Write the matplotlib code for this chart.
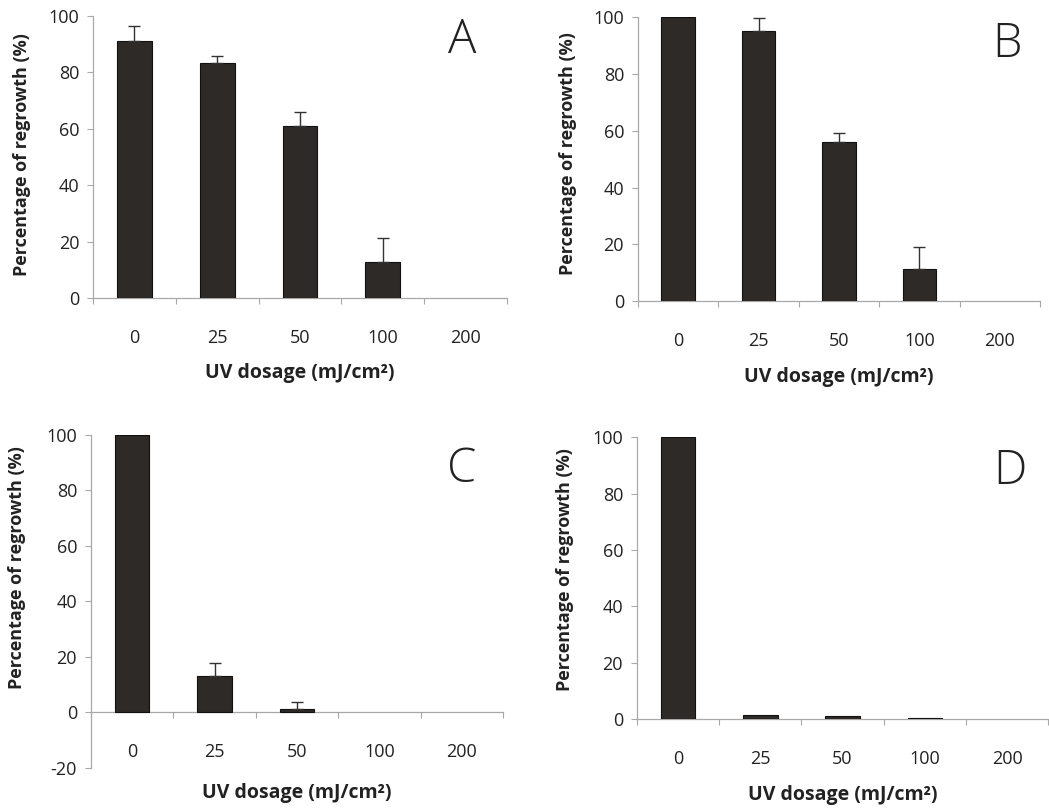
import matplotlib
matplotlib.use("Agg")
import matplotlib.pyplot as plt
import numpy as np

plt.rcParams['font.family'] = ['Open Sans', 'DejaVu Sans']

doses = ["0", "25", "50", "100", "200"]

vals_A = [91, 83.3, 61, 12.8, 0]
err_A = [5.5, 2.7, 5.0, 8.5, 0]
vals_B = [100, 95, 56, 11.4, 0]
err_B = [0, 4.6, 3.2, 7.8, 0]
vals_C = [100, 13, 1.3, 0, 0]
err_C = [0, 5.0, 2.4, 0, 0]
vals_D = [100, 1.4, 1.0, 0.3, 0]
err_D = [0, 0, 0, 0, 0]

panels = [
    ("A", vals_A, err_A, [0.0887, 0.6316, 0.3947, 0.3486], (0, 100), [0, 20, 40, 60, 80, 100], (462, 41), (22, 155), 373),
    ("B", vals_B, err_B, [0.6082, 0.6279, 0.3832, 0.3507], (0, 100), [0, 20, 40, 60, 80, 100], (1007, 45), (568, 154), 377),
    ("C", vals_C, err_C, [0.0867, 0.0507, 0.3928, 0.4116], (-20, 100), [-20, 0, 20, 40, 60, 80, 100], (462, 470), (17, 568), 793),
    ("D", vals_D, err_D, [0.6072, 0.1112, 0.3920, 0.3483], (0, 100), [0, 20, 40, 60, 80, 100], (1010, 472), (565, 570), 795),
]

W, H = 1049, 809
fig = plt.figure(figsize=(W / 100, H / 100), dpi=100)

bar_color = "#2e2a27"
axis_color = "#a8a8a8"
text_color = "#222222"

for letter, vals, errs, rect, ylim, yticks, lpos, ylpos, xly in panels:
    ax = fig.add_axes(rect)
    x = np.arange(len(doses))
    edges = ["#111111" if v > 0 else "none" for v in vals]
    ax.bar(x, vals, width=0.42, color=bar_color, edgecolor=edges, linewidth=0.8, zorder=3)
    for xi, v, e in zip(x, vals, errs):
        if e > 0:
            ax.errorbar([xi], [v], yerr=[[0], [e]], fmt="none", ecolor="#333333",
                        elinewidth=1.0, capsize=4, capthick=1.0, zorder=4, clip_on=False)
    ax.set_xlim(-0.5, len(doses) - 0.5)
    ax.set_ylim(*ylim)
    ax.set_yticks(yticks)
    ax.set_yticklabels([str(t) for t in yticks])
    ax.set_xticks(np.arange(-0.5, len(doses), 1.0))
    ax.set_xticklabels([])
    ax.set_xticks(x, minor=True)
    ax.set_xticklabels(doses, minor=True)
    ax.tick_params(axis="x", which="major", direction="out", length=4, width=0.8, color=axis_color)
    ax.tick_params(axis="x", which="minor", length=0, pad=22, labelsize=13, labelcolor=text_color)
    ax.tick_params(axis="y", direction="out", length=4, width=0.8, color=axis_color, pad=6,
                   labelsize=13, labelcolor=text_color)
    for s in ["top", "right"]:
        ax.spines[s].set_visible(False)
    ax.spines["left"].set_color(axis_color)
    ax.spines["bottom"].set_color(axis_color)
    ax.spines["bottom"].set_position(("data", 0))
    ax.spines["left"].set_linewidth(0.9)
    ax.spines["bottom"].set_linewidth(0.9)
    bb = ax.get_position()
    fig.text((bb.x0 + bb.x1) / 2, 1 - xly / H, "UV dosage (mJ/cm²)", fontsize=14,
             fontweight="bold", ha="center", va="center", color=text_color)
    fig.text(lpos[0] / W, 1 - lpos[1] / H, letter,
             fontsize=34, ha="center", va="center", color=text_color, fontweight="light")
    fig.text(ylpos[0] / W, 1 - ylpos[1] / H,
             "Percentage of regrowth (%)", rotation=90, fontsize=13,
             fontweight="bold", ha="center", va="center", color=text_color)

fig.savefig("out.png", dpi=100)
